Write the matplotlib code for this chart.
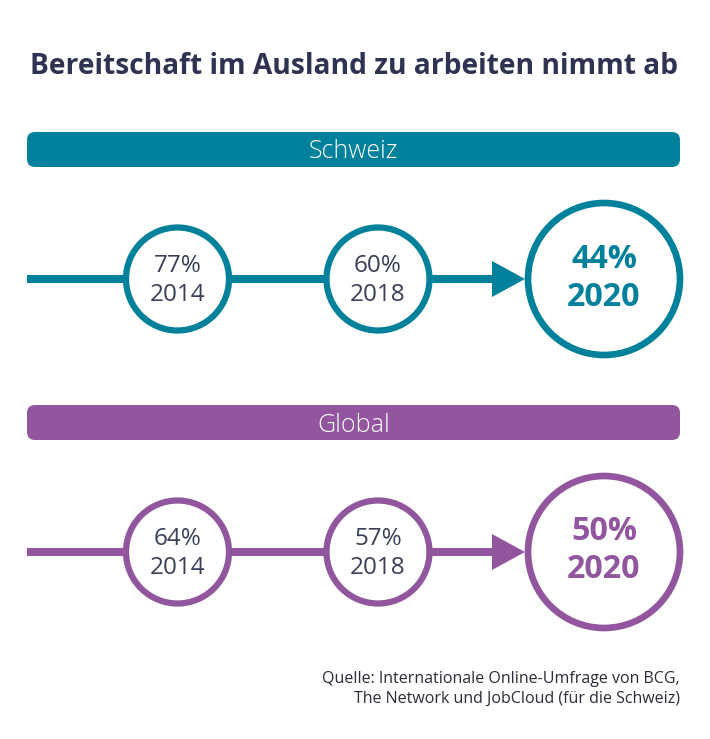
import matplotlib
matplotlib.use("Agg")
import matplotlib.pyplot as plt
from matplotlib.patches import Circle, FancyBboxPatch, Polygon

TITLE = "Bereitschaft im Ausland zu arbeiten nimmt ab"
GROUPS = ["Schweiz", "Global"]
YEARS = [2014, 2018, 2020]
SCHWEIZ = [77, 60, 44]
GLOBAL = [64, 57, 50]
SOURCE = "Quelle: Internationale Online-Umfrage von BCG,\nThe Network und JobCloud (für die Schweiz)"

TEAL = "#00819b"
PURPLE = "#91569e"
DARK = "#2d3350"
TEXT = "#3a3f58"

plt.rcParams["font.family"] = "Open Sans"
fig = plt.figure(figsize=(7.10, 7.39), dpi=100)
ax = fig.add_axes([0, 0, 1, 1])
ax.set_xlim(0, 710)
ax.set_ylim(739, 0)
ax.axis("off")

ax.text(354, 66, TITLE, ha="center", va="center", fontsize=20.25, fontweight="bold", color=DARK)

def row(name, vals, color, bar_y, cy):
    ax.add_patch(FancyBboxPatch((27, bar_y), 653, 35, boxstyle="round,pad=0,rounding_size=8", fc=color, ec="none"))
    ax.text(353.5, bar_y + 20, name, ha="center", va="center", fontsize=18, fontweight="light", color="white")
    ax.plot([27, 495], [cy, cy], color=color, lw=5.8, solid_capstyle="butt", zorder=1)
    ax.add_patch(Polygon([(492, cy - 18), (492, cy + 18), (525, cy)], fc=color, ec="none", zorder=1))
    for x, v, y in zip([177.5, 378], vals[:2], YEARS[:2]):
        ax.add_patch(Circle((x, cy), 51.5, fc="white", ec=color, lw=4.5, zorder=2))
        ax.text(x, cy - 13, f"{v}%", ha="center", va="center", fontsize=17.5, color=TEXT, zorder=3)
        ax.text(x, cy + 16, str(y), ha="center", va="center", fontsize=17.5, color=TEXT, zorder=3)
    ax.add_patch(Circle((604, cy), 76, fc="white", ec=color, lw=4.8, zorder=2))
    ax.text(604, cy - 20, f"{vals[2]}%", ha="center", va="center", fontsize=23.2, fontweight="bold", color=color, zorder=3)
    ax.text(604, cy + 18, str(YEARS[2]), ha="center", va="center", fontsize=23.2, fontweight="bold", color=color, zorder=3)

row(GROUPS[0], SCHWEIZ, TEAL, 132, 279)
row(GROUPS[1], GLOBAL, PURPLE, 405, 552)

ax.text(680, 689, SOURCE, ha="right", va="center", fontsize=11.5, color="#2b2b3a", linespacing=1.27)
fig.savefig("out.png", dpi=100)
